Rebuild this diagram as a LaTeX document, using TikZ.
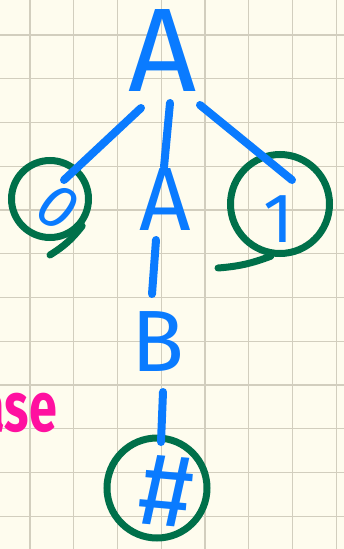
\documentclass[tikz,border=0pt]{standalone}
\usepackage{fontspec}
\setmainfont{Fira Sans}
\definecolor{paper}{HTML}{FEFCEE}
\definecolor{gridc}{HTML}{D2CEBE}
\definecolor{ink}{HTML}{0A7BFF}
\definecolor{circ}{HTML}{00704A}
\definecolor{pinkc}{HTML}{FF10A0}
\tikzset{
  lbl/.style={text=ink, inner sep=0pt, font=#1},
  edge/.style={draw=ink, line width=8pt, line cap=round},
  ring/.style={draw=circ, line width=7pt, circle, inner sep=0pt, minimum size=#1},
  ringtail/.style={draw=circ, line width=7pt, line cap=round},
}
\begin{document}
\begin{tikzpicture}[x=1pt,y=-1pt]
\useasboundingbox (0,0) rectangle (344,549);
\clip (0,0) rectangle (344,549);
\fill[paper] (0,0) rectangle (344,549);
% grid
\foreach \i in {0,...,7} \draw[gridc, line width=1.4pt] (30+43.75*\i,0) -- (30+43.75*\i,549);
\foreach \j in {0,...,11} \draw[gridc, line width=1.4pt] (0,35+43.75*\j) -- (344,35+43.75*\j);
% pink partial word
\node[text=pinkc, inner sep=0pt, anchor=base east, xscale=0.72, transform shape, font=\fontsize{70}{70}\selectfont\bfseries] (word) at (57,431) {ase};
% circles
\node[ring=77pt] (c0) at (50,199) {};
\node[ring=99pt] (c1) at (280,204) {};
\node[ring=100pt] (c2) at (157,488) {};
\draw[ringtail] (c0.-40) to[bend left=10] (50,255);
\coordinate (t1) at (218,268);
\draw[ringtail] (c1.-100) to[bend left=8] (t1);
% labels
\node[lbl={\fontsize{119}{119}\selectfont}] (topA) at (163,51) {A};
\node[lbl={\fontsize{90}{90}\selectfont}] (midA) at (165,199) {A};
\node[lbl={\fontsize{87}{87}\selectfont}] (B) at (158,342) {B};
\node[lbl={\fontsize{62}{62}\selectfont\itshape}, rotate=-30] (zero) at (58,207) {0};
\node[lbl={\fontsize{70}{70}\selectfont}] (one) at (279,219) {1};
\node[lbl={\fontsize{104}{104}\selectfont}, rotate=-5] (hash) at (166,491) {\#};
% edges
\coordinate (e1a) at (141,108); \coordinate (e1b) at (64,180);
\coordinate (e2a) at (170,103); \coordinate (e2b) at (164,167);
\coordinate (e3a) at (200,105); \coordinate (e3b) at (292,180);
\coordinate (e4a) at (156,240); \coordinate (e4b) at (152,294);
\coordinate (e5a) at (163,392); \coordinate (e5b) at (161,442);
\draw[edge] (e1a) -- (e1b);
\draw[edge] (e2a) -- (e2b);
\draw[edge] (e3a) -- (e3b);
\draw[edge] (e4a) -- (e4b);
\draw[edge] (e5a) -- (e5b);
\end{tikzpicture}
\end{document}
